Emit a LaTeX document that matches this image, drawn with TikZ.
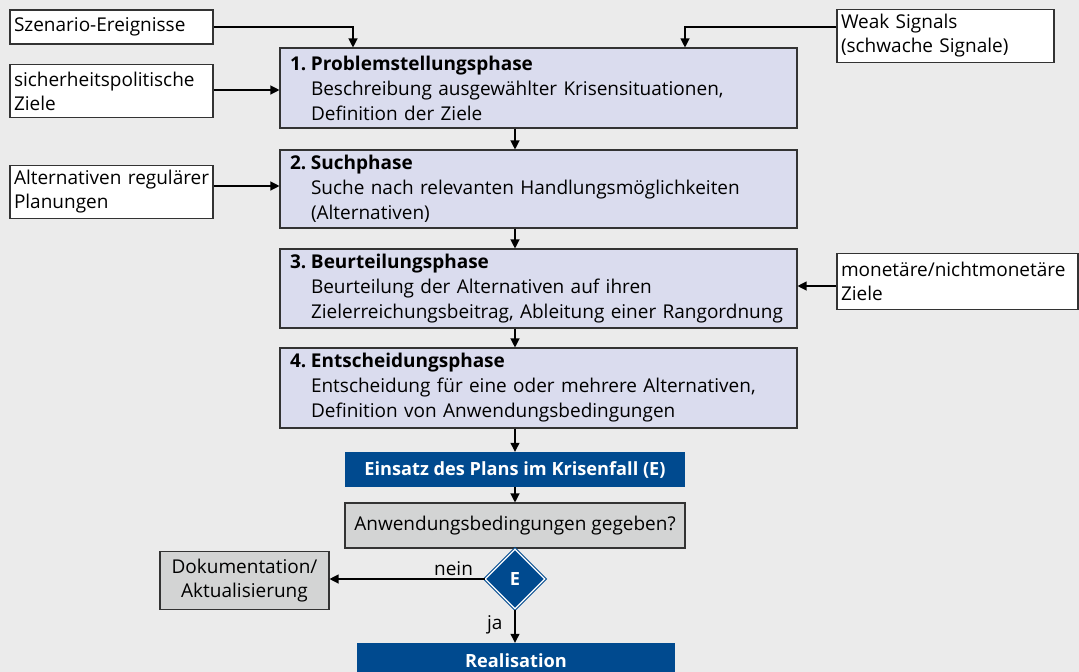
\documentclass[tikz,border=0pt]{standalone}
\usepackage{fontspec}
\setmainfont{Open Sans}
\usetikzlibrary{arrows.meta,shapes.geometric,calc}
\definecolor{bg}{HTML}{EBEBEB}
\definecolor{phasefill}{HTML}{DADCEE}
\definecolor{dblue}{HTML}{004A8F}
\definecolor{grayfill}{HTML}{D3D4D4}
\definecolor{bord}{HTML}{333333}
\newcommand{\fs}{\fontsize{19}{24}\selectfont}
\newcommand{\fsp}{\fontsize{19}{25}\selectfont}
\newcommand{\ml}[1]{\mbox{#1}}
\newcommand{\hd}[2]{\mbox{\makebox[21pt][l]{\textbf{#1}}\textbf{#2}}}
\newcommand{\bl}[1]{\mbox{\hspace*{21pt}#1}}
\tikzset{
  box/.style={draw=bord, line width=1.1pt, fill=white, rectangle, inner sep=0pt,
    align=left, font=\fs, anchor=center},
  phasebox/.style={draw=bord, line width=1.1pt, fill=phasefill, rectangle, inner sep=0pt,
    minimum width=517pt, text width=497pt, align=left, font=\fsp},
  bluebox/.style={fill=dblue, text=white, rectangle, inner sep=0pt,
    font=\bfseries\fontsize{18.2}{22}\selectfont},
  graybox/.style={draw=bord, line width=1.1pt, fill=grayfill, rectangle, inner sep=0pt,
    align=center, font=\fs},
  conn/.style={line width=1.2pt, -{Triangle[length=9pt,width=9pt]}},
  lbl/.style={font=\fs, inner sep=2pt}
}
\begin{document}
\begin{tikzpicture}[x=1pt,y=-1pt]
\fill[bg] (0,0) rectangle (1079,672);
\useasboundingbox (0,0) rectangle (1079,672);

% input boxes
\node[box, minimum width=203pt, minimum height=34pt, text width=195pt] (szen) at (111.5,27) {\ml{Szenario-Ereignisse}};
\node[box, minimum width=203pt, minimum height=53pt, text width=195pt] (sich) at (111.5,91) {\ml{sicherheitspolitische}\\\ml{Ziele}};
\node[box, minimum width=203pt, minimum height=53pt, text width=195pt] (alt) at (111.5,192) {\ml{Alternativen regulärer}\\\ml{Planungen}};
\node[box, minimum width=217pt, minimum height=53pt, text width=209pt] (weak) at (945.5,36) {\ml{Weak Signals}\\\ml{(schwache Signale)}};
\node[box, minimum width=241pt, minimum height=56pt, text width=233pt] (mon) at (957.5,281.5) {\ml{monetäre/nichtmonetäre}\\\ml{Ziele}};

% phase boxes
\node[phasebox, minimum height=80pt] (p1) at (538.5,88)
 {\hd{1.}{Problemstellungsphase}\\\bl{Beschreibung ausgewählter Krisensituationen,}\\\bl{Definition der Ziele}};
\node[phasebox, minimum height=78pt] (p2) at (538.5,189)
 {\hd{2.}{Suchphase}\\\bl{Suche nach relevanten Handlungsmöglichkeiten}\\\bl{(Alternativen)}};
\node[phasebox, minimum height=79pt] (p3) at (538.5,288.5)
 {\hd{3.}{Beurteilungsphase}\\\bl{Beurteilung der Alternativen auf ihren}\\\bl{Zielerreichungsbeitrag, Ableitung einer Rangordnung}};
\node[phasebox, minimum height=80pt] (p4) at (538.5,388)
 {\hd{4.}{Entscheidungsphase}\\\bl{Entscheidung für eine oder mehrere Alternativen,}\\\bl{Definition von Anwendungsbedingungen}};

% lower part
\node[bluebox, minimum width=340pt, minimum height=35pt] (eins) at (515,469.5) {Einsatz des Plans im Krisenfall (E)};
\node[graybox, minimum width=340pt, minimum height=45pt] (anw) at (515,525.5) {Anwendungsbedingungen gegeben?};
\node[diamond, fill=dblue, draw=dblue, line width=1pt, double=white, double distance=1.2pt,
  minimum width=60pt, minimum height=60pt, inner sep=0pt, text=white,
  font=\bfseries\fontsize{18.2}{22}\selectfont] (dia) at (515,579) {E};
\node[graybox, minimum width=169pt, minimum height=58pt] (doku) at (244.5,580.5) {Dokumentation/\\Aktualisierung};
\node[bluebox, minimum width=318pt, minimum height=36pt] (real) at (516,661) {Realisation};

% connectors
\coordinate (c1) at (353,27);
\coordinate (c2) at (685,27);
\draw[conn] (szen.east) -- (c1) -- (c1 |- p1.north);
\draw[conn] (weak.west |- c2) -- (c2) -- (c2 |- p1.north);
\draw[conn] (sich.east |- 0,90) -- (p1.west |- 0,90);
\draw[conn] (alt.east |- 0,186) -- (p2.west |- 0,186);
\draw[conn] (mon.west |- 0,286) -- (p3.east |- 0,286);
\coordinate (mx) at (515,0);
\draw[conn] (mx |- p1.south) -- (mx |- p2.north);
\draw[conn] (mx |- p2.south) -- (mx |- p3.north);
\draw[conn] (mx |- p3.south) -- (mx |- p4.north);
\draw[conn] (mx |- p4.south) -- (eins.north);
\draw[conn] (eins.south) -- (anw.north);
\draw[conn] (dia.west) -- (doku.east |- dia.west) node[lbl, pos=0.2, above, yshift=1pt] {nein};
\draw[conn] (dia.south) -- (dia.south |- real.north) node[lbl, pos=0.45, left, xshift=-10pt] {ja};
\end{tikzpicture}
\end{document}
